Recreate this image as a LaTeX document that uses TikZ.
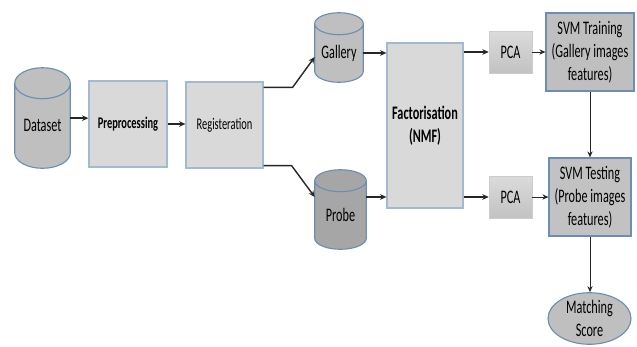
\documentclass[tikz,border=0pt]{standalone}
\usepackage{fontspec}
\setmainfont{Carlito}[FakeStretch=0.64]
\usepackage{tikz}
\usetikzlibrary{arrows.meta, positioning, shapes.geometric, calc, backgrounds}
\definecolor{edgeblue}{HTML}{6D8EB4}
\definecolor{paleblue}{HTML}{A3B9D1}
\definecolor{boxgray}{HTML}{D9D9D9}
\definecolor{midgray}{HTML}{BFBFBF}
\definecolor{darkgray}{HTML}{A6A6A6}

% cylinder drawn behind a named body node: [fill]{node}{cap radius}
\newcommand{\drum}[3][midgray]{%
  \begin{scope}[on background layer]
  \draw[draw=edgeblue, fill=#1, thick] let \p1=(#2.north west), \p2=(#2.south east), \n1={(\x2-\x1)/2} in
    (\x1,\y1) -- (\x1,\y2+#3) arc[start angle=180, end angle=360, x radius=\n1, y radius=#3]
    -- (\x2,\y1) arc[start angle=0, end angle=180, x radius=\n1, y radius=#3]
    arc[start angle=180, end angle=360, x radius=\n1, y radius=#3];
  \end{scope}}

\begin{document}
\begin{tikzpicture}[
    every node/.style={font=\fontsize{13.6}{16.4}\selectfont, align=center, inner sep=0pt},
    body/.style={rectangle},
    stage/.style={rectangle, draw=paleblue, fill=boxgray, thick},
    reduce/.style={rectangle, draw=midgray!80, top color=boxgray!95, bottom color=midgray!95, thin},
    svm/.style={rectangle, draw=edgeblue, fill=midgray, thick},
    result/.style={ellipse, draw=edgeblue, fill=midgray, thick},
    flow/.style={-{Stealth[length=1.6mm, width=1.4mm]}, line width=1.3pt, color=black!85},
    thin flow/.style={-{Stealth[length=1.5mm, width=1.3mm]}, line width=0.7pt, color=black!85}
]
\useasboundingbox (0,0) rectangle (15.925,-8.65);

% Input side
\node[body, minimum width=1.375cm, minimum height=2.1125cm] (dat) at (1.0625,-3.144) {Dataset};
\drum{dat}{0.3875cm}
\node[stage, minimum width=1.95cm, minimum height=2.15cm, font=\fontsize{11.6}{13}\selectfont\bfseries] (pre) at (3.2,-3.1) {Preprocessing};
\node[stage, minimum width=1.925cm, minimum height=2.15cm, font=\fontsize{11.6}{13}\selectfont] (reg) at (5.6125,-3.125) {Registeration};

% Gallery and probe sets
\node[body, minimum width=1.2cm, minimum height=1.45cm] (gal) at (8.475,-1.325) {Gallery};
\drum{gal}{0.275cm}
\node[body, minimum width=1.275cm, minimum height=1.7cm] (prb) at (8.5125,-5.375) {Probe};
\drum[darkgray]{prb}{0.275cm}

% Feature extraction
\node[stage, minimum width=1.9cm, minimum height=4.125cm] (fac) at (10.625,-3.1375) {\textbf{Factorisation}\\\textbf{(NMF)}};
\node[reduce, minimum width=1.075cm, minimum height=1.05cm] (pca1) at (12.7625,-1.3) {PCA};
\node[reduce, minimum width=1.075cm, minimum height=1.05cm] (pca2) at (12.7625,-4.925) {PCA};

% Classification
\node[svm, minimum width=2.2cm, minimum height=1.95cm] (trn) at (14.75,-1.3) {SVM Training\\(Gallery images\\features)};
\node[svm, fill=midgray!95!white, minimum width=2.05cm, minimum height=1.95cm] (tst) at (14.75,-4.925) {SVM Testing\\(Probe images\\features)};
\node[result, minimum width=2.075cm, minimum height=1.275cm] (msc) at (14.7375,-7.9625) {Matching\\Score};

% Flows
\draw[flow] ([yshift=1.9mm]dat.east) -- ([yshift=1.9mm]dat.east -| pre.west);
\draw[flow] (pre.east) -- (pre.east -| reg.west);
\draw[flow, line width=1pt] ([yshift=-1.5mm]reg.north east) -- ++(0.725,0) -- ([yshift=-1mm]gal.west);
\draw[flow, line width=1pt] ([yshift=0.75mm]reg.south east) -- ++(0.7,0) -- ([yshift=4.5mm]prb.west);
\draw[flow] (gal.east) -- (gal.east -| fac.west);
\draw[flow] ([yshift=4.5mm]prb.east) -- ([yshift=4.5mm]prb.east -| fac.west);
\draw[flow, line width=1.7pt] (pca1.west -| fac.east) -- (pca1.west);
\draw[flow, line width=1.7pt] (pca2.west -| fac.east) -- (pca2.west);
\draw[thin flow] (pca1) -- (trn);
\draw[thin flow] (pca2) -- (tst);
\draw[thin flow] (trn) -- (tst);
\draw[thin flow] (tst.south) -- (tst.south |- msc.north);
\end{tikzpicture}
\end{document}
